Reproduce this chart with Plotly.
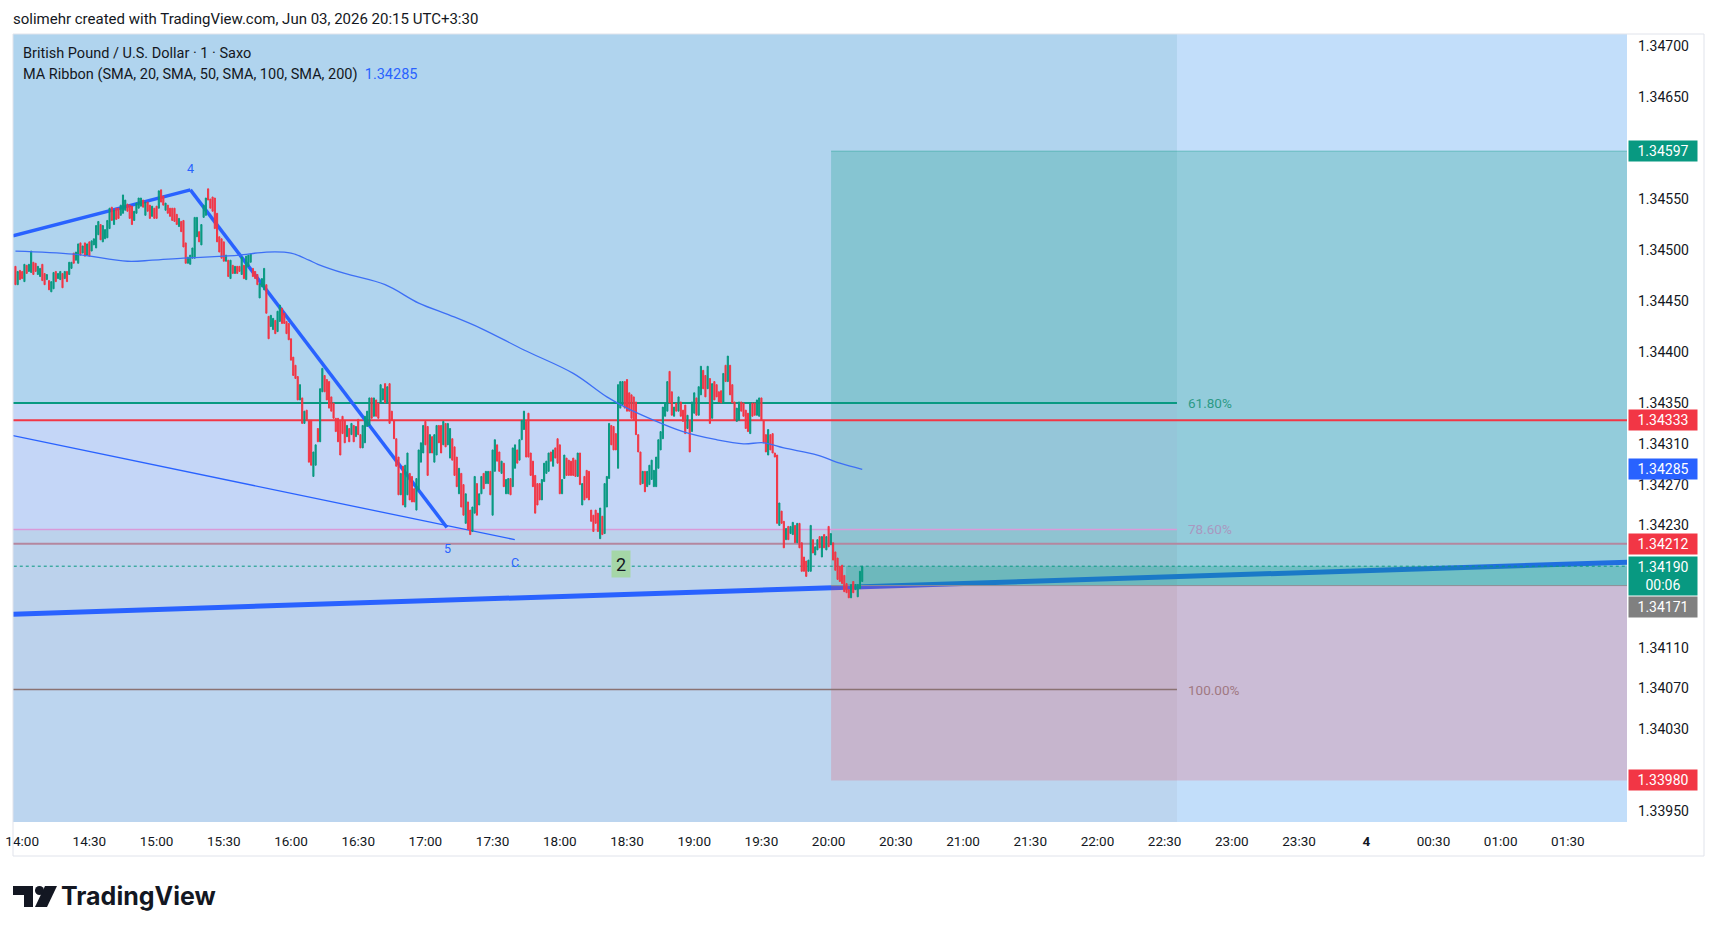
import pandas as pd
import plotly.graph_objects as go

# ---------------- data ----------------
first_bar = "2026-06-03 13:57"

opens = [
 1.34484,1.34466,1.34480,1.34479,1.34469,1.34485,1.34479,1.34478,1.34488,1.34487,
 1.34476,1.34474,1.34486,1.34477,1.34471,1.34470,1.34459,1.34462,1.34479,1.34472,
 1.34471,1.34477,1.34472,1.34479,1.34476,1.34482,1.34497,1.34490,1.34487,1.34507,
 1.34497,1.34507,1.34495,1.34508,1.34499,1.34505,1.34502,1.34515,1.34525,1.34508,
 1.34511,1.34512,1.34521,1.34542,1.34525,1.34541,1.34541,1.34534,1.34536,1.34539,
 1.34545,1.34544,1.34543,1.34529,1.34536,1.34541,1.34543,1.34549,1.34534,1.34547,
 1.34544,1.34533,1.34541,1.34543,1.34541,1.34559,1.34553,1.34539,1.34544,1.34541,
 1.34541,1.34541,1.34535,1.34523,1.34528,1.34529,1.34507,1.34487,1.34486,1.34492,
 1.34492,1.34513,1.34518,1.34505,1.34532,1.34534,1.34560,1.34550,1.34552,1.34551,
 1.34536,1.34513,1.34511,1.34508,1.34489,
 1.34490,1.34472,1.34485,1.34477,1.34484,1.34484,1.34476,1.34485,1.34471,1.34484,
 1.34488,1.34482,1.34479,1.34476,1.34453,1.34464,1.34461,1.34466,1.34435,1.34425,
 1.34422,1.34431,1.34420,1.34430,1.34443,1.34438,1.34430,1.34428,1.34413,1.34395,
 1.34387,1.34376,1.34353,1.34355,1.34330,1.34343,1.34333,1.34333,1.34278,1.34289,
 1.34325,1.34312,1.34361,1.34377,1.34373,1.34371,1.34356,1.34350,1.34335,1.34335,
 1.34333,1.34337,1.34333,1.34317,1.34325,1.34319,1.34328,1.34317,1.34334,1.34319,
 1.34306,1.34311,1.34327,1.34328,1.34355,1.34337,1.34353,1.34350,1.34350,1.34353,
 1.34369,1.34350,1.34369,1.34342,1.34333,1.34315,1.34297,1.34260,1.34288,1.34248,
 1.34260,1.34281,1.34278,1.34266,1.34245,1.34265,1.34292,1.34301,1.34332,1.34327,
 1.34301,1.34317,1.34292,1.34299,1.34328,1.34328,1.34309,1.34330,1.34309,
 1.34296,1.34315,1.34307,1.34297,1.34261,1.34281,1.34270,1.34232,1.34253,1.34245,
 1.34224,1.34242,1.34271,1.34250,1.34261,1.34281,1.34271,1.34271,1.34283,1.34240,
 1.34283,1.34309,1.34302,1.34281,1.34291,1.34261,1.34261,1.34276,1.34268,1.34286,
 1.34304,1.34294,1.34314,1.34324,1.34332,1.34340,1.34301,1.34293,1.34279,1.34271,
 1.34271,1.34255,1.34273,1.34281,1.34283,1.34302,1.34288,1.34306,1.34315,1.34309,
 1.34261,1.34276,1.34296,1.34294,1.34293,1.34296,1.34294,1.34278,1.34301,1.34250,
 1.34278,1.34284,1.34283,1.34245,1.34240,1.34245,1.34242,1.34217,1.34239,1.34222,
 1.34248,1.34276,1.34328,1.34327,1.34320,1.34286,1.34345,1.34348,1.34371,1.34373,
 1.34360,1.34358,1.34356,1.34351,1.34319,1.34302,1.34271,1.34283,1.34268,1.34270,
 1.34275,1.34268,1.34268,1.34286,
 1.34304,1.34315,1.34337,1.34342,1.34381,1.34361,1.34337,1.34350,1.34342,1.34351,
 1.34343,1.34348,1.34325,1.34333,1.34322,1.34340,1.34355,1.34338,1.34358,1.34382,
 1.34377,1.34364,1.34374,1.34335,1.34371,1.34368,1.34361,1.34362,1.34351,1.34387,
 1.34371,1.34387,1.34368,1.34351,1.34332,1.34333,1.34351,1.34350,1.34343,1.34340,
 1.34320,1.34350,1.34350,1.34338,1.34337,1.34355,1.34333,1.34319,1.34299,1.34319,
 1.34320,1.34301,1.34299,1.34230,1.34244,1.34234,1.34216,1.34229,1.34222,1.34221,
 1.34230,1.34213,1.34232,1.34213,1.34199,1.34195,1.34185,1.34185,1.34216,1.34201,
 1.34206,1.34219,1.34199,1.34221,1.34206,1.34229,1.34211,1.34213,1.34204,1.34198,
 1.34190,1.34191,1.34181,1.34173,1.34167,1.34159,1.34175,1.34167,1.34160,1.34168,
 1.34175,
]

closes = [
 1.34466,1.34479,1.34471,1.34472,1.34486,1.34477,1.34486,1.34499,1.34476,1.34479,
 1.34484,1.34482,1.34470,1.34466,1.34476,1.34461,1.34469,1.34478,1.34469,1.34477,
 1.34479,1.34463,1.34479,1.34469,1.34488,1.34488,1.34487,1.34498,1.34506,1.34495,
 1.34504,1.34494,1.34506,1.34494,1.34509,1.34511,1.34524,1.34528,1.34510,1.34524,
 1.34520,1.34529,1.34541,1.34529,1.34539,1.34530,1.34531,1.34544,1.34554,1.34549,
 1.34538,1.34531,1.34525,1.34538,1.34546,1.34551,1.34551,1.34542,1.34547,1.34538,
 1.34531,1.34543,1.34531,1.34531,1.34558,1.34547,1.34544,1.34546,1.34536,1.34533,
 1.34529,1.34528,1.34525,1.34531,1.34518,1.34503,1.34487,1.34493,1.34495,1.34502,
 1.34532,1.34532,1.34508,1.34525,1.34544,1.34551,1.34549,1.34541,1.34538,1.34521,
 1.34508,1.34498,1.34492,1.34489,1.34495,
 1.34474,1.34490,1.34477,1.34484,1.34477,1.34479,1.34493,1.34472,1.34494,1.34495,
 1.34496,1.34474,1.34472,1.34466,1.34467,1.34472,1.34482,1.34438,1.34413,1.34436,
 1.34433,1.34418,1.34440,1.34446,1.34428,1.34428,1.34418,1.34412,1.34392,1.34377,
 1.34374,1.34353,1.34368,1.34330,1.34342,1.34333,1.34292,1.34289,1.34302,1.34309,
 1.34312,1.34364,1.34384,1.34361,1.34353,1.34345,1.34342,1.34335,1.34322,1.34312,
 1.34299,1.34320,1.34311,1.34328,1.34312,1.34330,1.34312,1.34327,1.34319,1.34306,
 1.34328,1.34337,1.34342,1.34355,1.34335,1.34355,1.34337,1.34335,1.34368,1.34364,
 1.34350,1.34366,1.34330,1.34333,1.34315,1.34288,1.34260,1.34281,1.34250,1.34289,
 1.34301,1.34255,1.34253,1.34253,1.34276,1.34304,1.34311,1.34328,1.34309,1.34279,
 1.34319,1.34301,1.34319,1.34328,1.34311,1.34301,1.34332,1.34307,1.34330,
 1.34325,1.34294,1.34279,1.34268,1.34286,1.34248,1.34240,1.34261,1.34226,1.34221,
 1.34248,1.34278,1.34240,1.34261,1.34278,1.34266,1.34283,1.34283,1.34260,1.34304,
 1.34314,1.34293,1.34283,1.34293,1.34268,1.34275,1.34276,1.34260,1.34306,1.34309,
 1.34291,1.34314,1.34333,1.34342,1.34297,1.34297,1.34279,1.34268,1.34242,1.34250,
 1.34255,1.34275,1.34291,1.34293,1.34301,1.34293,1.34304,1.34296,1.34291,1.34261,
 1.34275,1.34299,1.34279,1.34279,1.34279,1.34279,1.34278,1.34301,1.34270,1.34271,
 1.34255,1.34257,1.34255,1.34234,1.34224,1.34232,1.34224,1.34247,1.34221,1.34271,
 1.34278,1.34330,1.34309,1.34304,1.34304,1.34368,1.34371,1.34371,1.34345,1.34342,
 1.34342,1.34335,1.34333,1.34319,1.34302,1.34270,1.34283,1.34263,1.34283,1.34289,
 1.34294,1.34284,1.34297,1.34314,
 1.34322,1.34346,1.34350,1.34371,1.34350,1.34338,1.34346,1.34342,1.34356,1.34337,
 1.34332,1.34320,1.34338,1.34302,1.34351,1.34360,1.34338,1.34366,1.34386,1.34364,
 1.34356,1.34386,1.34330,1.34369,1.34353,1.34356,1.34351,1.34350,1.34379,1.34371,
 1.34396,1.34358,1.34350,1.34333,1.34345,1.34351,1.34342,1.34337,1.34325,1.34322,
 1.34350,1.34337,1.34338,1.34353,1.34355,1.34333,1.34311,1.34302,1.34324,1.34304,
 1.34301,1.34297,1.34232,1.34252,1.34232,1.34208,1.34227,1.34216,1.34229,1.34233,
 1.34213,1.34232,1.34208,1.34185,1.34185,1.34180,1.34196,1.34230,1.34203,1.34209,
 1.34216,1.34208,1.34219,1.34208,1.34219,1.34209,1.34222,1.34196,1.34186,1.34177,
 1.34175,1.34173,1.34165,1.34164,1.34159,1.34172,1.34164,1.34172,1.34172,1.34185,
 1.34190,
]

# 200-period SMA (MA Ribbon)
ma_times = ["13:57","14:23","14:47","14:58","15:12","15:30","15:37","15:49","16:00","16:08",
            "16:12","16:24","16:42","16:57","17:11","17:25","17:44","18:06","18:21","18:30",
            "18:40","18:55","19:10","19:22","19:31","19:40","19:55","20:05","20:15"]
ma_values = [1.34499,1.34496,1.34489,1.34490,1.34492,1.34494,1.34495,1.34498,1.34497,1.34490,
             1.34486,1.34477,1.34466,1.34448,1.34436,1.34423,1.34402,1.34379,1.34356,1.34345,
             1.34335,1.34322,1.34314,1.34310,1.34311,1.34306,1.34299,1.34291,1.34285]

# drawings
wave_times = ["2026-06-03 13:55:54", "2026-06-03 15:15:06", "2026-06-03 17:09:36"]
wave_prices = [1.34514, 1.34559, 1.34228]
thin_times = ["2026-06-03 13:55:54", "2026-06-03 17:39:54"]
thin_prices = [1.34318, 1.34216]
trend_times = ["2026-06-03 13:55:54", "2026-06-04 01:56:30"]
trend_prices = [1.34143, 1.34194]

fib_labels = ["61.80%", "78.60%", "100.00%"]
fib_prices = [1.34350, 1.34226, 1.34069]
fib_end = "2026-06-03 22:35:30"

hline_red = 1.34333
hline_mauve = 1.34212
ma_last = 1.34285
current_price = 1.34190
countdown = "00:06"
entry_price = 1.34171
target_price = 1.34597
stop_price = 1.33980
entry_time = "2026-06-03 20:01:06"
pnl_start = "2026-06-03 20:07:42"

wave_labels = ["4", "5", "C"]
wave_label_times = ["2026-06-03 15:15:12", "2026-06-03 17:10:00", "2026-06-03 17:39:54"]
wave_label_prices = [1.34580, 1.34207, 1.34194]
box_label = "2"
box_label_time = "2026-06-03 18:27:18"
box_label_price = 1.34192

y_ticks = [1.34700,1.34650,1.34550,1.34500,1.34450,1.34400,1.34350,1.34310,
           1.34270,1.34230,1.34110,1.34070,1.34030,1.33950]
x_tick_times = pd.date_range("2026-06-03 14:00", "2026-06-04 01:30", freq="30min")
x_tick_text = ["14:00","14:30","15:00","15:30","16:00","16:30","17:00","17:30","18:00","18:30",
               "19:00","19:30","20:00","20:30","21:00","21:30","22:00","22:30","23:00","23:30",
               "<b>4</b>","00:30","01:00","01:30"]

# ---------------- figure ----------------
times = pd.date_range(first_bar, periods=len(opens), freq="min")
highs = [max(o, c) for o, c in zip(opens, closes)]
lows = [min(o, c) for o, c in zip(opens, closes)]
ma_x = [pd.Timestamp("2026-06-03 " + t) for t in ma_times]

GREEN = "#089981"
RED = "#f23645"
BLUE = "#2962ff"
FONT = "Roboto"

W, H = 1717, 933
PL, PR, PT, PB = 13, 1627, 34, 822
def px(x):
    return (x - PL) / (PR - PL)
def py(y):
    return (PB - y) / (PB - PT)

X_LEFT = "2026-06-03 13:55:54"
X_RIGHT = "2026-06-04 01:56:24"
FAR_LEFT = "2026-06-03 13:00"
FAR_RIGHT = "2026-06-04 03:00"
Y_LO, Y_HI = 1.339392, 1.347118

fig = go.Figure()
fig.add_trace(go.Scatter(x=ma_x, y=ma_values, mode="lines",
                         line=dict(color="#3d6ff5", width=1.3, shape="spline"),
                         hoverinfo="skip", showlegend=False))
fig.add_trace(go.Candlestick(x=times, open=opens, high=highs, low=lows, close=closes,
                             increasing=dict(line=dict(color=GREEN, width=1), fillcolor=GREEN),
                             decreasing=dict(line=dict(color=RED, width=1), fillcolor=RED),
                             whiskerwidth=0, showlegend=False))

shapes = []
def rect(x0, x1, y0, y1, color):
    shapes.append(dict(type="rect", xref="x", yref="y", x0=x0, x1=x1, y0=y0, y1=y1,
                       fillcolor=color, line=dict(width=0), layer="below"))
def seg(x0, y0, x1, y1, color, width, dash="solid"):
    shapes.append(dict(type="line", xref="x", yref="y", x0=x0, y0=y0, x1=x1, y1=y1,
                       line=dict(color=color, width=width, dash=dash), layer="below"))

# fib background bands (left block)
rect(FAR_LEFT, fib_end, fib_prices[0], 1.3480, "#b0d4ee")
rect(FAR_LEFT, fib_end, fib_prices[1], fib_prices[0], "#c4d6f7")
rect(FAR_LEFT, fib_end, fib_prices[2], fib_prices[1], "#bcd2ec")
rect(FAR_LEFT, fib_end, 1.3390, fib_prices[2], "#bcd5ef")
# long trendline (under position tool)
seg(trend_times[0], trend_prices[0], trend_times[1], trend_prices[1], BLUE, 5)
# long position tool
rect(entry_time, FAR_RIGHT, entry_price, target_price, "rgba(8,153,129,0.25)")
rect(entry_time, FAR_RIGHT, stop_price, entry_price, "rgba(242,54,69,0.2)")
rect(pnl_start, FAR_RIGHT, entry_price, current_price, "rgba(8,153,129,0.25)")
shapes.append(dict(type="line", xref="x", yref="y", x0=entry_time, x1=FAR_RIGHT,
                   y0=target_price, y1=target_price, line=dict(color="rgba(8,153,129,0.35)", width=1), layer="below"))
shapes.append(dict(type="line", xref="x", yref="y", x0=entry_time, x1=FAR_RIGHT,
                   y0=entry_price, y1=entry_price, line=dict(color="#8f8f96", width=1), layer="below"))
# fib lines
seg(FAR_LEFT, fib_prices[0], fib_end, fib_prices[0], GREEN, 2)
seg(FAR_LEFT, fib_prices[1], fib_end, fib_prices[1], "#d99ad9", 1.5)
seg(FAR_LEFT, fib_prices[2], fib_end, fib_prices[2], "#8a7272", 1.5)
# horizontal lines
seg(FAR_LEFT, hline_red, FAR_RIGHT, hline_red, RED, 2)
seg(FAR_LEFT, hline_mauve, FAR_RIGHT, hline_mauve, "#b4879f", 2)
seg(FAR_LEFT, current_price, FAR_RIGHT, current_price, GREEN, 1, "dot")
# elliott wave / channel lines
seg(wave_times[0], wave_prices[0], wave_times[1], wave_prices[1], BLUE, 3.5)
seg(wave_times[1], wave_prices[1], wave_times[2], wave_prices[2], BLUE, 3.5)
seg(thin_times[0], thin_prices[0], thin_times[1], thin_prices[1], BLUE, 1.3)

# frame
shapes.append(dict(type="rect", xref="paper", yref="paper", x0=px(13), x1=px(1704), y0=py(856), y1=py(34),
                   line=dict(color="#e0e3eb", width=1), fillcolor="rgba(0,0,0,0)", layer="above"))
# TradingView logo glyph
def pth(points):
    return "M " + " L ".join(f"{px(a):.5f},{py(b):.5f}" for a, b in points) + " Z"
shapes.append(dict(type="path", xref="paper", yref="paper",
                   path=pth([(13, 886), (33, 886), (33, 907), (24, 907), (24, 895), (13, 895)]),
                   fillcolor="#131722", line=dict(width=0)))
shapes.append(dict(type="path", xref="paper", yref="paper",
                   path=pth([(45, 886), (57, 886), (47, 907), (35, 907)]),
                   fillcolor="#131722", line=dict(width=0)))
shapes.append(dict(type="circle", xref="paper", yref="paper",
                   x0=px(35), x1=px(44), y0=py(895), y1=py(886),
                   fillcolor="#131722", line=dict(width=0)))

ann = []
def text(x, y, s, size=13, color="#131722", xanchor="left", **kw):
    ann.append(dict(x=px(x), y=py(y), xref="paper", yref="paper", text=s, showarrow=False,
                    xanchor=xanchor, yanchor="middle", font=dict(family=FONT, size=size, color=color), **kw))

text(11, 19, "solimehr created with TradingView.com, Jun 03, 2026 20:15 UTC+3:30", size=15)
text(21, 54, "British Pound / U.S. Dollar · 1 · Saxo", size=14.5)
text(21, 75, "MA Ribbon (SMA, 20, SMA, 50, SMA, 100, SMA, 200)  "
     f"<span style='color:{BLUE}'>{ma_last:.5f}</span>", size=14.5)
ann.append(dict(x=px(59), y=py(896), xref="paper", yref="paper", text="TradingView", showarrow=False,
                xanchor="left", yanchor="middle",
                font=dict(family="Inter", size=25, color="#131722", weight=700)))

# fib labels
fib_colors = ["#2b9a86", "#a998c0", "#a07882"]
for lab, pr, col in zip(fib_labels, fib_prices, fib_colors):
    ann.append(dict(x="2026-06-03 22:39:30", y=pr, xref="x", yref="y", text=lab, showarrow=False,
                    xanchor="left", yanchor="middle", font=dict(family=FONT, size=13.5, color=col)))

# wave labels
for lab, tx, pr in zip(wave_labels, wave_label_times, wave_label_prices):
    ann.append(dict(x=tx, y=pr, xref="x", yref="y", text=lab, showarrow=False,
                    xanchor="center", yanchor="middle", font=dict(family=FONT, size=12.5, color=BLUE)))
ann.append(dict(x=box_label_time, y=box_label_price, xref="x", yref="y", text=box_label, showarrow=False,
                xanchor="center", yanchor="middle", bgcolor="#a5d6a7", width=18, height=26, borderpad=0,
                font=dict(family=FONT, size=18, color="#131722")))

# price scale labels
def plabel(price, color, s=None, shift=0, height=20, anchor="middle"):
    ann.append(dict(x=px(1628), y=price, xref="paper", yref="y", text=s or f"{price:.5f}",
                    showarrow=False, xanchor="left", yanchor=anchor, yshift=shift,
                    bgcolor=color, width=68, height=height, borderpad=0, align="center",
                    font=dict(family=FONT, size=14, color="white")))
plabel(target_price, GREEN)
plabel(hline_red, RED)
plabel(ma_last, BLUE)
plabel(hline_mauve, RED)
plabel(current_price, GREEN, f"{current_price:.5f}<br>{countdown}", shift=10, height=38, anchor="top")
plabel(entry_price, "#808080", shift=-10.5, anchor="top")
plabel(stop_price, RED)

fig.update_layout(
    width=W, height=H,
    margin=dict(l=PL, r=W - PR, t=PT, b=H - PB, pad=0),
    paper_bgcolor="white", plot_bgcolor="#c2defa",
    shapes=shapes, annotations=ann, showlegend=False,
    font=dict(family=FONT, size=13, color="#131722"),
    xaxis=dict(type="date", range=[X_LEFT, X_RIGHT], rangeslider=dict(visible=False),
               tickvals=list(x_tick_times), ticktext=x_tick_text, showgrid=False, zeroline=False,
               showline=False, ticks="", ticklabelstandoff=9, automargin=False,
               tickfont=dict(family=FONT, size=13.5, color="#131722")),
    yaxis=dict(side="right", range=[Y_LO, Y_HI], tickvals=y_ticks,
               ticktext=[f"{v:.5f}" for v in y_ticks], showgrid=False, zeroline=False,
               showline=False, ticks="", ticklabelstandoff=10, automargin=False,
               tickfont=dict(family=FONT, size=14, color="#131722")),
)

fig.write_html("out.html")
